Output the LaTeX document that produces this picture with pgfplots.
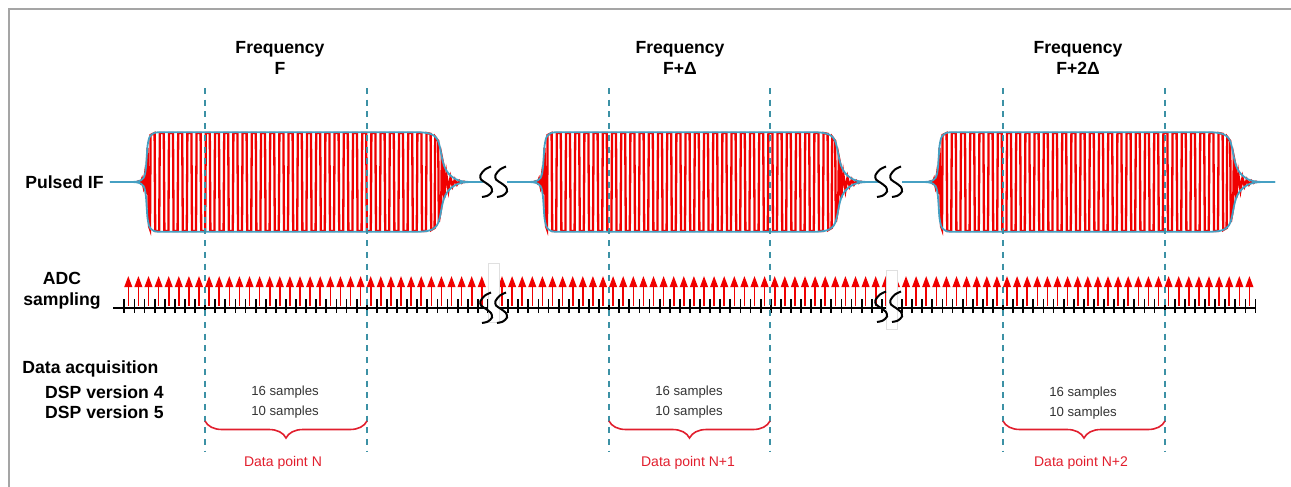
\documentclass[border=0pt]{standalone}
\usepackage{fontspec}
\setmainfont{Liberation Sans}
\usepackage{pgfplots}
\usepackage{pgfplotstable}
\pgfplotsset{compat=1.18}
\usetikzlibrary{arrows.meta,decorations.pathreplacing}

\definecolor{envteal}{RGB}{70,160,195}
\definecolor{dashteal}{RGB}{60,145,165}
\definecolor{pulsered}{RGB}{240,0,0}
\definecolor{bracered}{RGB}{225,30,45}
\definecolor{framegray}{RGB}{165,165,165}

% envelope of one pulse (pixel coords, y measured from the top)
\pgfplotstableread{
x yu yl
110 182 182
130 182 182
137 181.6 182.4
141 180.3 183.7
143.5 178 186
145 174 190
146 167 197
146.7 157 207
147.5 146 218
149 138.5 225.5
151 135 229
154 133 231
158 132.3 231.7
163 132.3 231.7
170 132.3 231.7
180 132.3 231.7
200 132.3 231.7
240 132.3 231.7
280 132.3 231.7
320 132.3 231.7
360 132.3 231.7
390 132.3 231.7
405 132.3 231.7
413 132.3 231.7
420 132.3 231.7
427 133 231
432 134.5 229.5
436 137.5 226.5
438.5 142 222
440.5 150 214
442 158 206
444 165.5 198.5
447 171.5 192.5
451 176 188
456 179.3 184.7
462 181.3 182.7
470 182 182
483 182 182
}\envelope

% carrier inside one pulse
\pgfplotstableread{
x y
137.0 182
139.0 181.2
140.6 183.0
142.0 179.2
143.4 185.8
144.8 175.5
146.2 194
147.5 148
149.0 226
150.0 229
150.6 135
154.6 133
155.2 231
159.2 231
159.8 133
163.8 133
164.4 231
168.4 231
169.0 133
173.0 133
173.6 231
177.6 231
178.2 133
182.2 133
182.8 231
186.8 231
187.4 133
191.4 133
192.0 231
196.0 231
196.6 133
200.6 133
201.2 231
205.2 231
205.8 133
209.8 133
210.4 231
214.4 231
215.0 133
219.0 133
219.6 231
223.6 231
224.2 133
228.2 133
228.8 231
232.8 231
233.4 133
237.4 133
238.0 231
242.0 231
242.6 133
246.6 133
247.2 231
251.2 231
251.8 133
255.8 133
256.4 231
260.4 231
261.0 133
265.0 133
265.6 231
269.6 231
270.2 133
274.2 133
274.8 231
278.8 231
279.4 133
283.4 133
284.0 231
288.0 231
288.6 133
292.6 133
293.2 231
297.2 231
297.8 133
301.8 133
302.4 231
306.4 231
307.0 133
311.0 133
311.6 231
315.6 231
316.2 133
320.2 133
320.8 231
324.8 231
325.4 133
329.4 133
330.0 231
334.0 231
334.6 133
338.6 133
339.2 231
343.2 231
343.8 133
347.8 133
348.4 231
352.4 231
353.0 133
357.0 133
357.6 231
361.6 231
362.2 133
366.2 133
366.8 231
370.8 231
371.4 133
375.4 133
376.0 231
380.0 231
380.6 133
384.6 133
385.2 231
389.2 231
389.8 133
393.8 133
394.4 231
398.4 231
399.0 133
403.0 133
403.6 231
407.6 231
408.2 133
412.2 133
412.8 231
416.8 231
417.4 133
421.4 133
422.0 231
426.0 231
426.6 133
430.6 133.8
431.2 230
434.6 228
435.2 137
438.2 141
438.8 222
441.2 208
441.8 157
443.6 166
444.2 198
446.3 174
448.5 190
450.5 177.5
452.6 186
454.8 179.5
457.0 184.5
459.3 180.8
461.5 183
463.5 181.7
465.5 182
}\carrier

% one "S" of the break symbol
\pgfplotstableread{
x y
13 0.5
7 3.5
2.5 9
3 13.5
8 17
13 21
14 25.5
10 29.5
4 31
}\brkS

% ADC sample instants (index) and base height
\pgfplotstableread[row sep=\\]{
k y\\0 306\\1 306\\2 306\\3 306\\4 306\\5 306\\6 306\\7 306\\8 306\\9 306\\
10 306\\11 306\\12 306\\13 306\\14 306\\15 306\\16 306\\17 306\\18 306\\19 306\\
20 306\\21 306\\22 306\\23 306\\24 306\\25 306\\26 306\\27 306\\28 306\\29 306\\
30 306\\31 306\\32 306\\33 306\\34 306\\35 306\\36 306\\37 306\\38 306\\39 306\\
40 306\\41 306\\42 306\\43 306\\44 306\\45 306\\46 306\\47 306\\48 306\\49 306\\
50 306\\51 306\\52 306\\53 306\\54 306\\55 306\\56 306\\57 306\\58 306\\59 306\\
60 306\\61 306\\62 306\\63 306\\64 306\\65 306\\66 306\\67 306\\68 306\\69 306\\
70 306\\71 306\\72 306\\73 306\\74 306\\75 306\\76 306\\77 306\\78 306\\79 306\\
80 306\\81 306\\82 306\\83 306\\84 306\\85 306\\86 306\\87 306\\88 306\\89 306\\
90 306\\91 306\\92 306\\93 306\\94 306\\95 306\\96 306\\97 306\\98 306\\99 306\\
100 306\\101 306\\102 306\\103 306\\104 306\\105 306\\106 306\\107 306\\108 306\\109 306\\
110 306\\111 306\\112 306\\
}\samples

\newcommand{\pulse}[1]{%
  \addplot[pulsered, line width=1.15pt] table[x expr=\thisrow{x}+#1, y=y]{\carrier};
  \addplot[envteal, line width=0.9pt, smooth, tension=0.5] table[x expr=\thisrow{x}+#1, y=yu]{\envelope};
  \addplot[envteal, line width=0.9pt, smooth, tension=0.5] table[x expr=\thisrow{x}+#1, y=yl]{\envelope};
}
\newcommand{\brk}[2]{%
  \addplot[black, line width=1pt, smooth] table[x expr=\thisrow{x}+#1, y expr=\thisrow{y}+#2]{\brkS};
  \addplot[black, line width=1pt, smooth] table[x expr=\thisrow{x}+#1+15, y expr=\thisrow{y}+#2]{\brkS};
}
\newcommand{\winline}[1]{%
  \addplot[dashteal, line width=1pt, dash pattern=on 3pt off 2.85pt] coordinates {(#1,88) (#1,452)};
}

\begin{document}
\begin{tikzpicture}[
  lbl/.style={font=\fontsize{8.8}{10.5}\selectfont\bfseries, inner sep=0pt},
  small/.style={font=\fontsize{6.6}{8}\selectfont, text=black!80, inner sep=0pt},
  dp/.style={font=\fontsize{7}{8.5}\selectfont, text=bracered, inner sep=0pt}]
\pgfplotsset{canvas/.style={width=645.5pt, height=243.5pt, scale only axis, hide axis,
  ymin=0, ymax=487, y dir=reverse}}

% sampling arrows and ticks, x in sample periods
\begin{axis}[canvas, xmin=-12.703, xmax=115.119]
\addplot[black, only marks, mark=|, mark size=3.5pt, mark options={line width=0.9pt}, xshift=-2pt]
  table[x=k, y=y]{\samples};
\addplot[pulsered, line width=0.8pt, -{Triangle[length=5.6pt, width=3.9pt]},
  quiver={u=0, v=-30}, restrict x to domain=0:111]
  table[x=k, y=y]{\samples};
\end{axis}

\begin{axis}[canvas, xmin=0, xmax=1291]
\path (axis cs:0,0) rectangle (axis cs:1291,487);
% frame
\addplot[framegray, line width=1pt] coordinates {(9,487) (9,8.5) (1291,8.5)};

% ADC time axis
\addplot[black, line width=1pt] coordinates {(113,308) (1255,308)};
\addplot[fill=white, draw=black!12] coordinates {(488,263) (499,263) (499,322) (488,322)} -- cycle;
\addplot[fill=white, draw=black!12] coordinates {(886,270) (897,270) (897,329) (886,329)} -- cycle;
\brk{478}{292}
\brk{873}{291}

% pulses
\pulse{0}
\pulse{397}
\pulse{792}
\brk{478}{166}
\brk{873}{166}

% measurement windows
\winline{205}\winline{367}
\winline{609}\winline{770}
\winline{1003}\winline{1165}

\draw[bracered, line width=0.8pt, decorate, decoration={brace, mirror, amplitude=8.5pt}]
  (axis cs:205,421) -- (axis cs:367,421);
\draw[bracered, line width=0.8pt, decorate, decoration={brace, mirror, amplitude=8.5pt}]
  (axis cs:609,421) -- (axis cs:770,421);
\draw[bracered, line width=0.8pt, decorate, decoration={brace, mirror, amplitude=8.5pt}]
  (axis cs:1003,421) -- (axis cs:1165,421);

% labels
\node[lbl, align=center] at (axis cs:280,57.5) {Frequency\\F};
\node[lbl, align=center] at (axis cs:680,57.5) {Frequency\\F+Δ};
\node[lbl, align=center] at (axis cs:1078,57.5) {Frequency\\F+2Δ};
\node[lbl, anchor=east] at (axis cs:104,182) {Pulsed IF};
\node[lbl, align=center, anchor=east] at (axis cs:101,291) {ADC\\sampling};
\node[lbl, anchor=west] at (axis cs:22,369) {Data acquisition};
\node[lbl, anchor=east] at (axis cs:164,392) {DSP version 4};
\node[lbl, anchor=east] at (axis cs:164,412) {DSP version 5};

\node[small] at (axis cs:285,392) {16 samples};
\node[small] at (axis cs:285,412) {10 samples};
\node[small] at (axis cs:689,392) {16 samples};
\node[small] at (axis cs:689,412) {10 samples};
\node[small] at (axis cs:1083,393) {16 samples};
\node[small] at (axis cs:1083,413) {10 samples};

\node[dp] at (axis cs:283,463) {Data point N};
\node[dp] at (axis cs:688,463) {Data point N+1};
\node[dp] at (axis cs:1081,463) {Data point N+2};
\end{axis}
\end{tikzpicture}
\end{document}
